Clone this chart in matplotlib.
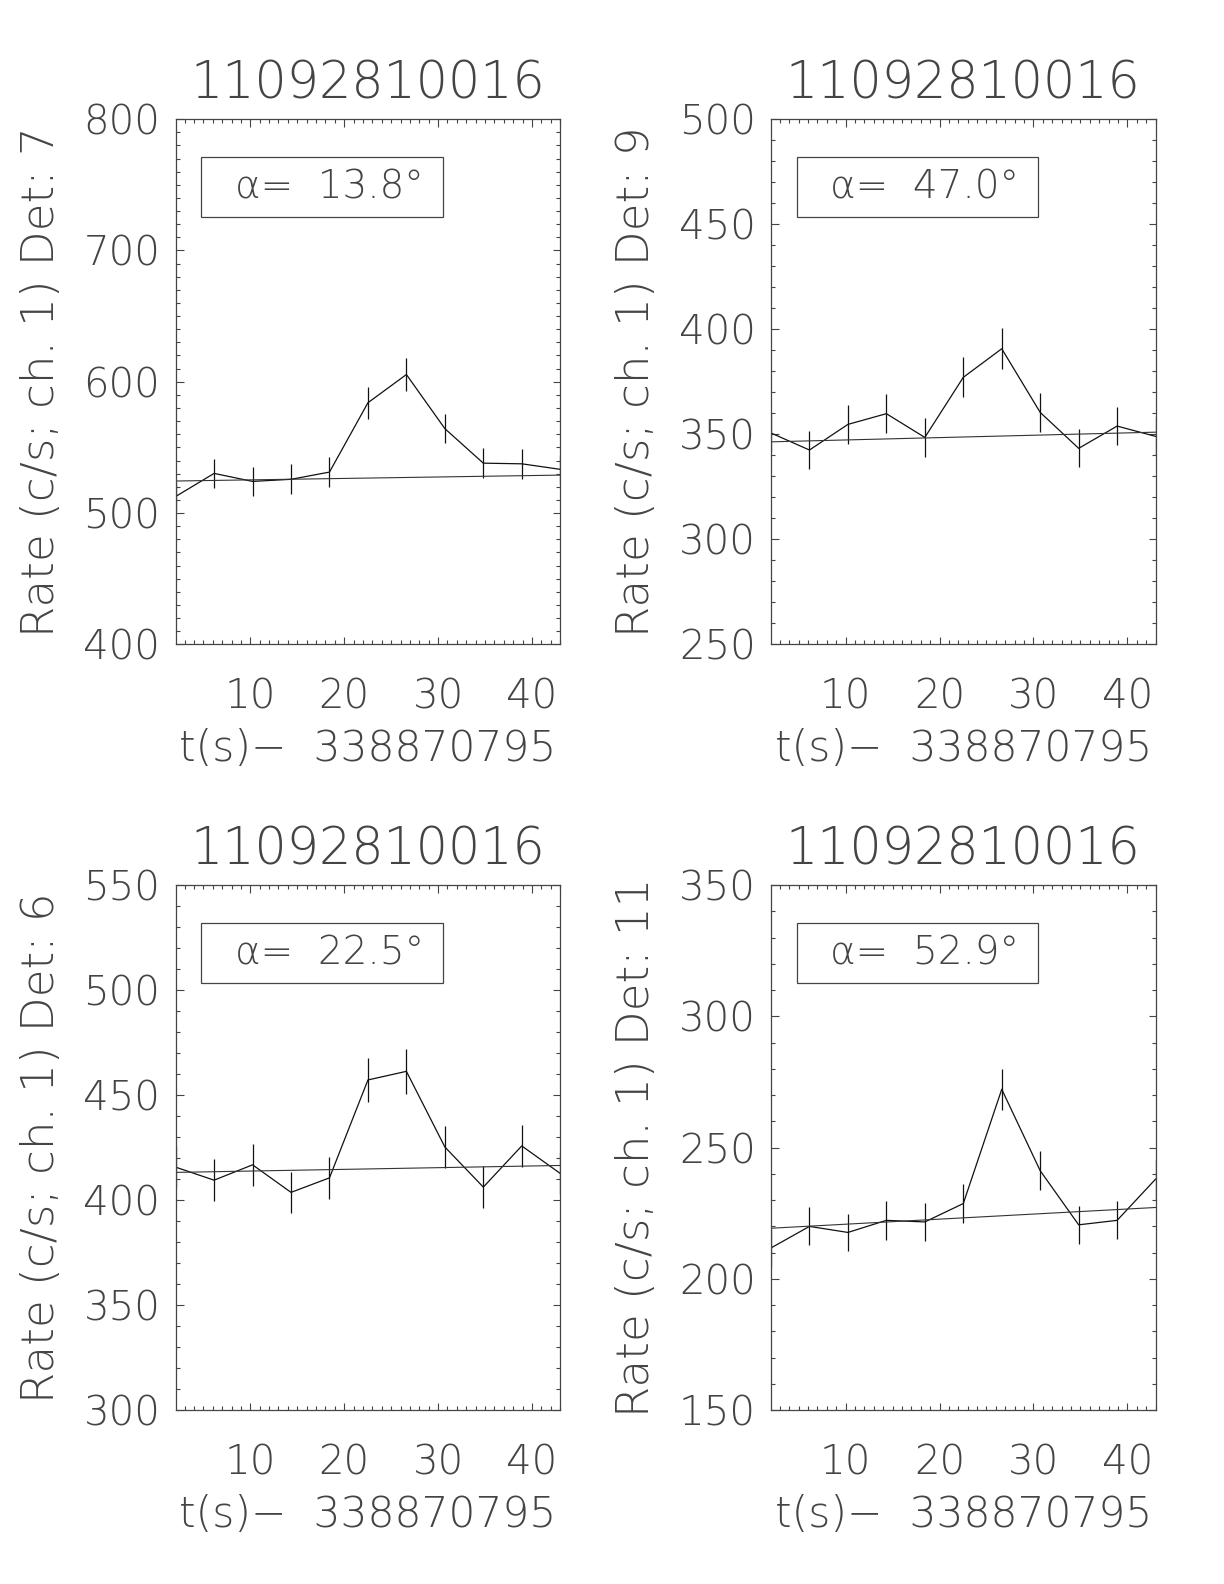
import matplotlib.pyplot as plt
from matplotlib.patches import Rectangle
from matplotlib.ticker import MultipleLocator

plt.rcParams['font.family'] = ['DejaVu Sans']
plt.rcParams['font.weight'] = 200
plt.rcParams['axes.titleweight'] = 200
plt.rcParams['axes.labelweight'] = 200

# time bins (s after 338870795)
t = [2.048, 6.144, 10.24, 14.336, 18.432, 22.528, 26.624, 30.72, 34.816, 38.912, 43.008]

title = "11092810016"
xlab = "t(s)\u2212  338870795"

# detector 7
rate7 = [512.6, 530.2, 524.1, 525.7, 531.2, 584.0, 605.5, 564.3, 538.0, 537.5, 533.3]
err7 = [11.0, 11.2, 11.2, 11.4, 11.4, 12.0, 12.5, 11.2, 11.2, 11.2, 11.0]
fit7 = [524.4, 528.9]

# detector 9
rate9 = [350.6, 342.5, 354.7, 359.8, 348.5, 377.1, 390.7, 360.4, 343.3, 353.9, 349.0]
err9 = [9.1, 9.2, 9.1, 9.3, 9.2, 9.5, 9.8, 9.2, 9.0, 9.2, 9.1]
fit9 = [346.4, 351.0]

# detector 6
rate6 = [415.7, 409.5, 416.8, 403.7, 410.6, 457.2, 461.3, 425.3, 406.2, 425.8, 412.7]
err6 = [10.0, 10.0, 10.0, 9.9, 10.0, 10.6, 10.6, 10.1, 9.9, 10.0, 10.0]
fit6 = [413.2, 416.5]

# detector 11
rate11 = [211.8, 220.0, 217.7, 222.3, 221.7, 228.7, 272.2, 241.2, 220.6, 222.3, 238.0]
err11 = [7.2, 7.2, 7.2, 7.3, 7.3, 7.4, 7.9, 7.5, 7.2, 7.2, 7.4]
fit11 = [219.3, 227.2]

panels = [
    (rate7, err7, fit7, "7", "13.8", (400, 800), 100, 10),
    (rate9, err9, fit9, "9", "47.0", (250, 500), 50, 10),
    (rate6, err6, fit6, "6", "22.5", (300, 550), 50, 10),
    (rate11, err11, fit11, "11", "52.9", (150, 350), 50, 10),
]

positions = [
    [0.1435, 0.5932, 0.3142, 0.3316],
    [0.6299, 0.5932, 0.3142, 0.3316],
    [0.1435, 0.1097, 0.3142, 0.3316],
    [0.6299, 0.1097, 0.3142, 0.3316],
]

txt = '#444444'
fig = plt.figure(figsize=(12.24, 15.84), dpi=100)

for pos, (rate, err, fit, det, alpha, ylim, ymaj, ymin) in zip(positions, panels):
    ax = fig.add_axes(pos)
    ax.plot(t, rate, color='#111111', lw=0.9)
    ax.errorbar(t, rate, yerr=err, fmt='none', ecolor='#111111', elinewidth=0.9, capsize=0)
    ax.plot([t[0], t[-1]], fit, color='#333333', lw=0.8)
    ax.set_xlim(t[0], t[-1])
    ax.set_ylim(*ylim)
    ax.xaxis.set_major_locator(MultipleLocator(10))
    ax.xaxis.set_minor_locator(MultipleLocator(1))
    ax.yaxis.set_major_locator(MultipleLocator(ymaj))
    ax.yaxis.set_minor_locator(MultipleLocator(ymin))
    ax.tick_params(which='both', direction='in', top=True, right=True,
                   color='#444444', width=0.8, labelcolor=txt, labelsize=29)
    ax.tick_params(which='major', length=5.4)
    ax.tick_params(which='minor', length=2.7)
    ax.tick_params(axis='x', pad=24)
    ax.tick_params(axis='y', pad=11)
    for s in ax.spines.values():
        s.set_color('#444444')
        s.set_linewidth(0.9)
    ax.set_title(title, fontsize=36.5, color=txt, pad=15)
    ax.set_xlabel(xlab, fontsize=30.5, color=txt, labelpad=8)
    ax.set_ylabel("Rate (c/s; ch. 1) Det: " + det, fontsize=32.5, color=txt, labelpad=15)
    ax.add_patch(Rectangle((0.067, 0.813), 0.628, 0.115, transform=ax.transAxes,
                           fill=False, edgecolor='#444444', lw=0.9))
    ax.text(0.40, 0.849, "\u03b1=  " + alpha + "\u00b0", transform=ax.transAxes,
            ha='center', va='baseline', fontsize=28, color=txt)

fig.savefig("out.png", dpi=100)
